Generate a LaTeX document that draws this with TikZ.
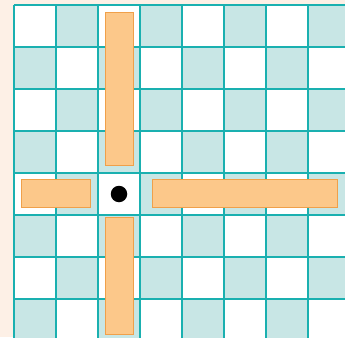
\documentclass[tikz,border=0pt]{standalone}
\usepackage{xcolor}
\definecolor{peach}{HTML}{FDF0E6}
\definecolor{cellteal}{HTML}{C8E6E5}
\definecolor{gridteal}{HTML}{1AB0B0}
\definecolor{barfill}{HTML}{FCC88A}
\definecolor{baredge}{HTML}{F0A04A}

\begin{document}
\begin{tikzpicture}[x=1pt,y=-1pt,
    cell/.style={fill=cellteal},
    gridline/.style={draw=gridteal,line width=1.2pt},
    wall/.style={fill=barfill,draw=baredge,line width=1pt}]
        \fill[peach] (0,0) rectangle (345,337);
        \useasboundingbox (0,0) rectangle (345,337);
        \begin{scope}
        \clip (0,0) rectangle (345,337);
        \fill[white] (14,5) rectangle (350,341);
        \foreach \i in {0,...,7}
            \foreach \j in {0,...,7} {
                \pgfmathtruncatemacro{\odd}{mod(\i+\j,2)}
                \ifnum\odd=1 \fill[cell] ({14+42*\i},{5+42*\j}) rectangle ++(42,42); \fi
            }
        \foreach \k in {0,...,8} {
            \draw[gridline] ({14+42*\k},5) -- ({14+42*\k},341);
            \draw[gridline] (14,{5+42*\k}) -- (350,{5+42*\k});
        }
        \end{scope}
        \draw[wall] (105,13) rectangle (133,165);
        \draw[wall] (105,217) rectangle (133,334);
        \draw[wall] (21,179) rectangle (90,207);
        \draw[wall] (152,179) rectangle (337,207);
        \node[circle,fill=black,minimum size=16.5pt,inner sep=0pt] (ball) at (119,194) {};
\end{tikzpicture}
\end{document}
